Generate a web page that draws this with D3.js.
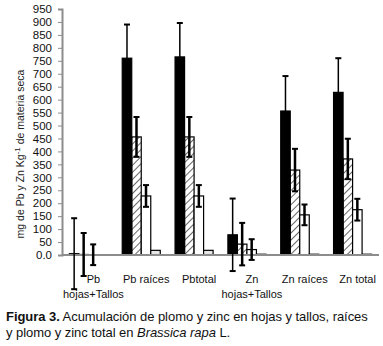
<!DOCTYPE html>
<html>
<head>
<meta charset="utf-8">
<script src="https://cdn.jsdelivr.net/npm/d3@7"></script>
<style>
  body { margin: 0; background: #fff; }
  svg { display: block; font-family: "Liberation Sans", Arial, sans-serif; }
</style>
</head>
<body>
<svg id="chart"></svg>
<script>
// categories (x labels, split on lines)
const categories = ['Pb hojas+Tallos', 'Pb raíces', 'Pbtotal', 'Zn hojas+Tallos', 'Zn raíces', 'Zn total'];
const catLines = [['Pb', 'hojas+Tallos'], ['Pb raíces'], ['Pbtotal'], ['Zn', 'hojas+Tallos'], ['Zn raíces'], ['Zn total']];

// four treatments, no legend in the figure
const series = ['s1', 's2', 's3', 's4'];
const s1 = [5, 760, 765, 78, 556, 628];
const s1Err = [137, 130, 131, 140, 135, 132];
const s2 = [2, 456, 456, 42, 328, 371];
const s2Err = [83, 77, 77, 82, 82, 78];
const s3 = [1, 228, 228, 21, 155, 175];
const s3Err = [40, 42, 42, 40, 40, 42];
const s4 = [0.5, 18, 18, 3, 3, 3];

const yTicks = d3.range(0, 951, 50);

const width = 383, height = 346;
const margin = {left: 62, right: 4, top: 9, bottom: 91};

const svg = d3.select('#chart')
  .attr('width', width)
  .attr('height', height);

// hatch pattern for second series
const defs = svg.append('defs');
defs.append('pattern')
  .attr('id', 'hatch')
  .attr('patternUnits', 'userSpaceOnUse')
  .attr('width', 5)
  .attr('height', 5)
  .attr('patternTransform', 'rotate(45)')
  .append('line')
  .attr('x1', 0).attr('y1', 0)
  .attr('x2', 0).attr('y2', 5)
  .attr('stroke', '#000')
  .attr('stroke-width', 1.2);

const x = d3.scaleBand()
  .domain(categories)
  .range([margin.left, width - margin.right]);

const inner = d3.scaleBand()
  .domain(series)
  .range([0, x.bandwidth() * 0.72]);
const innerOff = (x.bandwidth() - x.bandwidth() * 0.72) / 2;

const y = d3.scaleLinear()
  .domain([0, 950])
  .range([height - margin.bottom, margin.top]);

const data = [
  {key: 's1', vals: s1, err: s1Err, fill: '#000', ew: 1.5},
  {key: 's2', vals: s2, err: s2Err, fill: 'url(#hatch)', ew: 2.5},
  {key: 's3', vals: s3, err: s3Err, fill: '#fff', ew: 2.5},
  {key: 's4', vals: s4, err: null, fill: '#e6e6e6', ew: 0}
];

// y axis
const yAxis = svg.append('g')
  .attr('transform', `translate(${margin.left},0)`)
  .call(d3.axisLeft(y).tickValues(yTicks).tickSize(4).tickPadding(6)
    .tickFormat(d => d === 0 ? '0.0' : d));
yAxis.select('.domain').attr('stroke', '#8c8c8c').attr('stroke-width', 2);
yAxis.selectAll('.tick line').attr('stroke', '#8c8c8c');
yAxis.selectAll('.tick text')
  .attr('fill', '#111')
  .style('font-size', '11.5px')
  .style('font-family', '"Liberation Sans", Arial, sans-serif');

// bars
data.forEach(s => {
  svg.append('g')
    .selectAll('rect')
    .data(categories)
    .enter()
    .append('rect')
    .attr('x', d => x(d) + innerOff + inner(s.key))
    .attr('y', (d, i) => y(s.vals[i]))
    .attr('width', inner.bandwidth())
    .attr('height', (d, i) => y(0) - y(s.vals[i]))
    .attr('fill', s.fill)
    .attr('stroke', '#000')
    .attr('stroke-width', 1.2);
});

// x axis baseline
svg.append('line')
  .attr('x1', margin.left)
  .attr('x2', width - margin.right)
  .attr('y1', y(0))
  .attr('y2', y(0))
  .attr('stroke', '#8c8c8c')
  .attr('stroke-width', 2);

// error bars
data.filter(s => s.err).forEach(s => {
  const g = svg.append('g').attr('stroke', '#000');
  categories.forEach((c, i) => {
    const cx = x(c) + innerOff + inner(s.key) + inner.bandwidth() / 2;
    const hi = y(s.vals[i] + s.err[i]);
    const lo = y(s.vals[i] - s.err[i]);
    g.append('line')
      .attr('x1', cx).attr('x2', cx)
      .attr('y1', hi).attr('y2', lo)
      .attr('stroke-width', s.ew);
    [hi, lo].forEach(yy => {
      g.append('line')
        .attr('x1', cx - 3).attr('x2', cx + 3)
        .attr('y1', yy).attr('y2', yy)
        .attr('stroke-width', 2);
    });
  });
});

// x labels
const xl = svg.append('g')
  .style('font-size', '11px')
  .attr('fill', '#111')
  .attr('text-anchor', 'middle');
categories.forEach((c, i) => {
  catLines[i].forEach((t, j) => {
    xl.append('text')
      .attr('x', x(c) + x.bandwidth() / 2 + 5)
      .attr('y', y(0) + 28 + j * 15)
      .text(t);
  });
});

// y label
const yl = svg.append('text')
  .attr('transform', `translate(24,${(y(0) + y(950)) / 2 + 22}) rotate(-90)`)
  .attr('text-anchor', 'middle')
  .attr('fill', '#222')
  .style('font-size', '10.5px');
yl.append('tspan').text('mg de Pb y Zn Kg');
yl.append('tspan').attr('dy', -4).style('font-size', '8px').text('-1');
yl.append('tspan').attr('dy', 4).text(' de materia seca');

// caption
const cap1 = svg.append('text')
  .attr('x', 6).attr('y', 321)
  .attr('fill', '#111')
  .style('font-size', '13px')
  .style('letter-spacing', '-0.05px');
cap1.append('tspan').style('font-weight', 'bold').text('Figura 3.');
cap1.append('tspan').text(' Acumulación de plomo y zinc en hojas y tallos, raíces');

const cap2 = svg.append('text')
  .attr('x', 6).attr('y', 337)
  .attr('fill', '#111')
  .style('font-size', '13px')
  .style('letter-spacing', '-0.05px');
cap2.append('tspan').text('y plomo y zinc total en ');
cap2.append('tspan').style('font-style', 'italic').text('Brassica rapa');
cap2.append('tspan').text(' L.');
</script>
</body>
</html>
